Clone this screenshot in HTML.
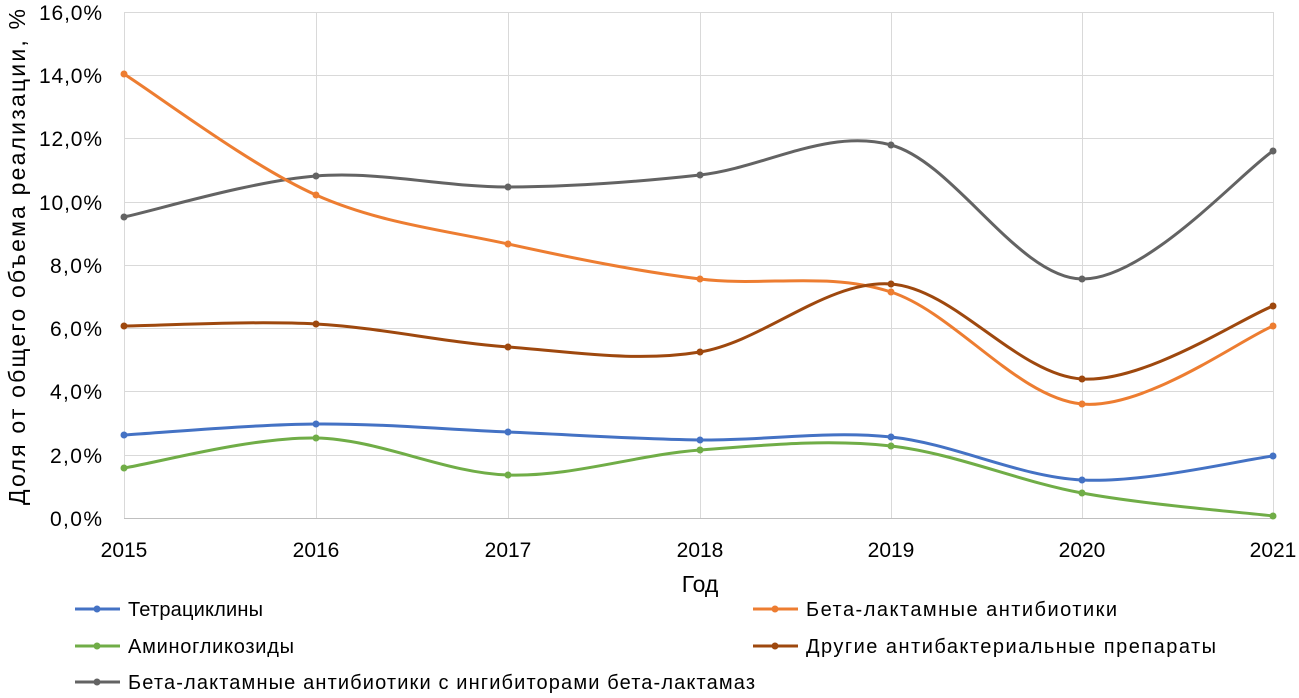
<!DOCTYPE html>
<html><head><meta charset="utf-8"><style>
body{margin:0;background:#fff;}
svg{display:block;font-family:"Liberation Sans","DejaVu Sans",sans-serif;}
</style></head><body>
<svg id="s" width="1299" height="698" xmlns="http://www.w3.org/2000/svg">
<g stroke="#d9d9d9" stroke-width="1">
<line x1="124" y1="12.5" x2="1273" y2="12.5"/>
<line x1="124" y1="75.5" x2="1273" y2="75.5"/>
<line x1="124" y1="138.5" x2="1273" y2="138.5"/>
<line x1="124" y1="202.5" x2="1273" y2="202.5"/>
<line x1="124" y1="265.5" x2="1273" y2="265.5"/>
<line x1="124" y1="328.5" x2="1273" y2="328.5"/>
<line x1="124" y1="391.5" x2="1273" y2="391.5"/>
<line x1="124" y1="455.5" x2="1273" y2="455.5"/>
<line x1="124.5" y1="12" x2="124.5" y2="518"/>
<line x1="316.5" y1="12" x2="316.5" y2="518"/>
<line x1="508.5" y1="12" x2="508.5" y2="518"/>
<line x1="700.5" y1="12" x2="700.5" y2="518"/>
<line x1="891.5" y1="12" x2="891.5" y2="518"/>
<line x1="1082.5" y1="12" x2="1082.5" y2="518"/>
<line x1="1273.5" y1="12" x2="1273.5" y2="518"/>
</g>
<line x1="124" y1="518.5" x2="1273" y2="518.5" stroke="#bfbfbf"/>
<g font-size="21" fill="#000" text-anchor="end">
<text x="102" y="20" textLength="63">16,0%</text><text x="102" y="83" textLength="63">14,0%</text><text x="102" y="146" textLength="63">12,0%</text>
<text x="102" y="210" textLength="63">10,0%</text><text x="102" y="273" textLength="52">8,0%</text><text x="102" y="336" textLength="52">6,0%</text>
<text x="102" y="399" textLength="52">4,0%</text><text x="102" y="463" textLength="52">2,0%</text><text x="102" y="526" textLength="52">0,0%</text>
</g>
<g font-size="21" text-anchor="middle">
<text x="124" y="557">2015</text><text x="316" y="557">2016</text><text x="508" y="557">2017</text>
<text x="700" y="557">2018</text><text x="891" y="557">2019</text><text x="1082" y="557">2020</text><text x="1273" y="557">2021</text>
<text x="700" y="592" font-size="23">Год</text>
</g>
<text transform="translate(25,257) rotate(-90)" font-size="23" text-anchor="middle" textLength="496">Доля от общего объема реализации, %</text>
<g id="series"></g>
<g font-size="20">
<line x1="75" y1="609" x2="120" y2="609" stroke="#4472c4" stroke-width="3"/><circle cx="97" cy="609" r="3.5" fill="#4472c4"/>
<text x="128" y="616" textLength="135">Тетрациклины</text>
<line x1="753" y1="609" x2="798" y2="609" stroke="#ed7d31" stroke-width="3"/><circle cx="775" cy="609" r="3.5" fill="#ed7d31"/>
<text x="806" y="616" textLength="311">Бета-лактамные антибиотики</text>
<line x1="75" y1="646" x2="120" y2="646" stroke="#70ad47" stroke-width="3"/><circle cx="97" cy="646" r="3.5" fill="#70ad47"/>
<text x="128" y="653" textLength="166">Аминогликозиды</text>
<line x1="753" y1="646" x2="798" y2="646" stroke="#9e480e" stroke-width="3"/><circle cx="775" cy="646" r="3.5" fill="#9e480e"/>
<text x="806" y="653" textLength="410">Другие антибактериальные препараты</text>
<line x1="75" y1="682" x2="120" y2="682" stroke="#636363" stroke-width="3"/><circle cx="97" cy="682" r="3.5" fill="#636363"/>
<text x="128" y="689" textLength="627">Бета-лактамные антибиотики с ингибиторами бета-лактамаз</text>
</g>
</svg>
<script>
var X=[124,316,508,700,891,1082,1273];
var S=[
["#636363",[217,176,187,175,145,279,151]],
["#ed7d31",[74,195,244,279,292,404,326]],
["#9e480e",[326,324,347,352,284,379,306]],
["#4472c4",[435,424,432,440,437,480,456]],
["#70ad47",[468,438,475,450,446,493,516]]];
var g=document.getElementById("series"),ns="http://www.w3.org/2000/svg";
S.forEach(function(s){
 var y=s[1],P=X.map(function(x,i){return [x,y[i]]});
 var d="M"+P[0][0]+","+P[0][1];
 for(var i=0;i<P.length-1;i++){
  var p0=P[Math.max(i-1,0)],p1=P[i],p2=P[i+1],p3=P[Math.min(i+2,P.length-1)];
  var c1=[p1[0]+(p2[0]-p0[0])/6,p1[1]+(p2[1]-p0[1])/6];
  var c2=[p2[0]-(p3[0]-p1[0])/6,p2[1]-(p3[1]-p1[1])/6];
  d+=" C"+c1+" "+c2+" "+p2;
 }
 var pa=document.createElementNS(ns,"path");
 pa.setAttribute("d",d);pa.setAttribute("fill","none");pa.setAttribute("stroke",s[0]);pa.setAttribute("stroke-width","3");
 g.appendChild(pa);
 P.forEach(function(p){var c=document.createElementNS(ns,"circle");c.setAttribute("cx",p[0]);c.setAttribute("cy",p[1]);c.setAttribute("r","3.5");c.setAttribute("fill",s[0]);g.appendChild(c);});
});
</script>
</body></html>
